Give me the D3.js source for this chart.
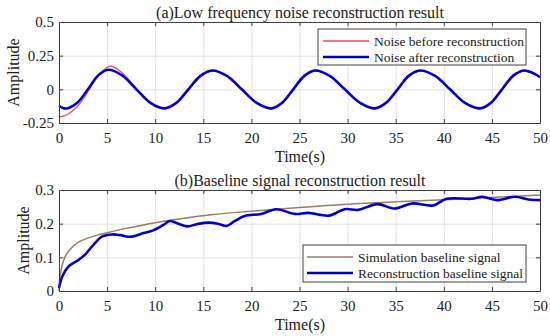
<!DOCTYPE html>
<html>
<head>
<meta charset="utf-8">
<script src="https://cdn.jsdelivr.net/npm/d3@7"></script>
<style>
  body { margin: 0; background: #fff; }
  svg text { font-family: "Liberation Serif", "Times New Roman", serif; fill: #222; }
  .grid line { stroke: #e3e3e3; }
  .grid path { display: none; }
  .axis path, .axis line { stroke: #404040; }
</style>
</head>
<body>
<div id="chart"></div>
<script>
// time ticks shared by both panels
const timeTicks = [0, 5, 10, 15, 20, 25, 30, 35, 40, 45, 50];

// (a) low frequency noise, [time, amplitude]
const noiseBefore = [
  [0, -0.205], [0.6, -0.196], [1.2, -0.172], [1.9, -0.128], [2.6, -0.064], [3.2, 0.005],
  [4.2, 0.108], [5.3, 0.173], [6.6, 0.12], [8.1, 0], [9.55, -0.103], [11.05, -0.146],
  [12.25, -0.104], [13.5, 0], [14.75, 0.097], [15.95, 0.137], [17.5, 0.097], [19.05, 0],
  [20.6, -0.104], [22.15, -0.146], [23.25, -0.104], [24.4, 0], [25.55, 0.097], [26.65, 0.137],
  [28.2, 0.097], [29.75, 0], [31.35, -0.104], [32.9, -0.146], [34.05, -0.104], [35.25, 0],
  [36.4, 0.097], [37.55, 0.137], [39.15, 0.097], [40.7, 0], [42.25, -0.104], [43.85, -0.146],
  [44.95, -0.104], [46.1, 0], [47.25, 0.097], [48.35, 0.137], [49.45, 0.112], [50, 0.088]
];
const noiseAfter = [
  [0, -0.122], [0.4, -0.139], [0.8, -0.142], [1.9, -0.1], [3.0, 0], [4.05, 0.102],
  [5.1, 0.145], [6.55, 0.103], [8.05, 0], [9.5, -0.1], [11.0, -0.141], [12.2, -0.1],
  [13.45, 0], [14.7, 0.1], [15.9, 0.14], [17.45, 0.1], [19.0, 0], [20.55, -0.1],
  [22.1, -0.141], [23.2, -0.1], [24.35, 0], [25.5, 0.1], [26.6, 0.14], [28.15, 0.1],
  [29.7, 0], [31.3, -0.1], [32.85, -0.141], [34.0, -0.1], [35.2, 0], [36.35, 0.1],
  [37.5, 0.14], [39.1, 0.1], [40.65, 0], [42.2, -0.1], [43.8, -0.141], [44.9, -0.1],
  [46.05, 0], [47.2, 0.1], [48.3, 0.14], [49.4, 0.117], [50, 0.09]
];
const noiseTicks = [-0.25, 0, 0.25, 0.5];
const noiseTickLabels = ['-0.25', '0', '0.25', '0.5'];

// (b) baseline signal, [time, amplitude]
const baselineSim = [
  [0, 0], [0.05, 0.03], [0.2, 0.06], [0.6, 0.1], [1.1, 0.122], [2, 0.145], [3, 0.157],
  [4, 0.166], [5, 0.173], [7, 0.186], [10, 0.203], [13, 0.216], [16, 0.227], [20, 0.237],
  [25, 0.248], [30, 0.258], [35, 0.265], [40, 0.271], [45, 0.278], [50, 0.285]
];
const baselineRec = [
  [0, 0.009], [0.35, 0.044], [1, 0.073], [1.9, 0.09], [2.6, 0.105], [3.6, 0.138],
  [4.5, 0.162], [5.5, 0.168], [6.4, 0.166], [7.4, 0.161], [8.8, 0.172], [9.8, 0.18],
  [10.9, 0.197], [11.5, 0.208], [12.2, 0.202], [13.3, 0.192], [14.4, 0.199], [15.6, 0.203],
  [16.5, 0.2], [17.4, 0.193], [18.3, 0.208], [19.3, 0.223], [21, 0.229], [22.6, 0.243],
  [24.5, 0.229], [25.9, 0.232], [28.1, 0.224], [29.7, 0.243], [31.1, 0.241], [33.1, 0.258],
  [34.9, 0.245], [36.7, 0.26], [38.9, 0.254], [40.3, 0.274], [42.9, 0.274], [44, 0.28],
  [45.5, 0.27], [47.4, 0.28], [48.8, 0.272], [50, 0.27]
];
const baselineTicks = [0, 0.1, 0.2, 0.3];
const baselineTickLabels = ['0', '0.1', '0.2', '0.3'];

const width = 550, height = 336;
const left = 59, right = 540;
const serif = '"Liberation Serif", "Times New Roman", serif';

const svg = d3.select('#chart').append('svg')
  .attr('width', width)
  .attr('height', height);

function panel(cfg) {
  const g = svg.append('g');
  const x = d3.scaleLinear().domain([0, 50]).range([left, right]);
  const y = d3.scaleLinear().domain(cfg.yDomain).range([cfg.bottom, cfg.top]);
  const h = cfg.bottom - cfg.top;

  // grid
  g.append('g').attr('class', 'grid')
    .attr('transform', `translate(0,${cfg.bottom})`)
    .call(d3.axisBottom(x).tickValues(timeTicks).tickSize(-h).tickFormat(''));
  g.append('g').attr('class', 'grid')
    .attr('transform', `translate(${left},0)`)
    .call(d3.axisLeft(y).tickValues(cfg.yTicks).tickSize(-(right - left)).tickFormat(''));

  const line = d3.line()
    .x(d => x(d[0]))
    .y(d => y(d[1]))
    .curve(d3.curveCatmullRom.alpha(0.5));

  cfg.series.forEach(s => {
    g.append('path')
      .datum(s.values)
      .attr('fill', 'none')
      .attr('stroke', s.color)
      .attr('stroke-width', s.width)
      .attr('stroke-linejoin', 'round')
      .attr('d', line);
  });

  // axes with inward ticks on all four sides
  const fmt = (d, i) => cfg.yTickLabels[i];
  const bottomAx = g.append('g').attr('class', 'axis')
    .attr('transform', `translate(0,${cfg.bottom})`)
    .call(d3.axisBottom(x).tickValues(timeTicks).tickSizeInner(-4).tickSizeOuter(0).tickPadding(6).tickFormat(d3.format('d')));
  bottomAx.attr('font-family', serif).attr('font-size', 15);
  bottomAx.selectAll('text').attr('dy', '0.95em');
  const leftAx = g.append('g').attr('class', 'axis')
    .attr('transform', `translate(${left},0)`)
    .call(d3.axisLeft(y).tickValues(cfg.yTicks).tickSizeInner(-4).tickSizeOuter(0).tickPadding(5).tickFormat(fmt));
  leftAx.attr('font-family', serif).attr('font-size', 15);
  g.append('g').attr('class', 'axis')
    .attr('transform', `translate(0,${cfg.top})`)
    .call(d3.axisTop(x).tickValues(timeTicks).tickSizeInner(-4).tickSizeOuter(0).tickFormat(''));
  g.append('g').attr('class', 'axis')
    .attr('transform', `translate(${right},0)`)
    .call(d3.axisRight(y).tickValues(cfg.yTicks).tickSizeInner(-4).tickSizeOuter(0).tickFormat(''));

  // titles
  g.append('text')
    .attr('x', 300).attr('y', cfg.top - 4)
    .attr('text-anchor', 'middle')
    .style('font-size', '16px')
    .text(cfg.title);
  g.append('text')
    .attr('x', 300).attr('y', cfg.bottom + 39)
    .attr('text-anchor', 'middle')
    .style('font-size', '16px')
    .text('Time(s)');
  g.append('text')
    .attr('transform', `translate(${cfg.yLabelX},${(cfg.top + cfg.bottom) / 2}) rotate(-90)`)
    .attr('text-anchor', 'middle')
    .attr('dy', '0.35em')
    .style('font-size', '16px')
    .text('Amplitude');

  // legend
  const L = cfg.legend;
  const lg = g.append('g');
  lg.append('rect')
    .attr('x', L.x).attr('y', L.y)
    .attr('width', L.w).attr('height', L.h)
    .attr('fill', '#fff')
    .attr('stroke', '#404040')
    .attr('stroke-width', 1);
  cfg.series.forEach((s, i) => {
    const yy = L.y + 12 + i * 16;
    lg.append('line')
      .attr('x1', L.x + L.lineStart).attr('x2', L.x + L.lineStart + 46)
      .attr('y1', yy).attr('y2', yy)
      .attr('stroke', s.color)
      .attr('stroke-width', s.width);
    lg.append('text')
      .attr('x', L.x + L.lineStart + 51).attr('y', yy)
      .attr('dy', '0.35em')
      .style('font-size', '13.5px')
      .text(s.name);
  });
}

panel({
  top: 22, bottom: 123,
  yDomain: [-0.25, 0.5],
  yTicks: noiseTicks, yTickLabels: noiseTickLabels,
  yLabelX: 13,
  title: '(a)Low frequency noise reconstruction result',
  series: [
    { name: 'Noise before reconstruction', values: noiseBefore, color: '#e0505f', width: 1.3 },
    { name: 'Noise after reconstruction', values: noiseAfter, color: '#0000cd', width: 2.6 }
  ],
  legend: { x: 318, y: 29, w: 208, h: 36, lineStart: 5 }
});

panel({
  top: 190, bottom: 291,
  yDomain: [0, 0.3],
  yTicks: baselineTicks, yTickLabels: baselineTickLabels,
  yLabelX: 23,
  title: '(b)Baseline signal reconstruction result',
  series: [
    { name: 'Simulation baseline signal', values: baselineSim, color: '#a07a62', width: 1.5 },
    { name: 'Reconstruction baseline signal', values: baselineRec, color: '#0000cd', width: 2.6 }
  ],
  legend: { x: 303, y: 245, w: 223, h: 37, lineStart: 4 }
});
</script>
</body>
</html>
